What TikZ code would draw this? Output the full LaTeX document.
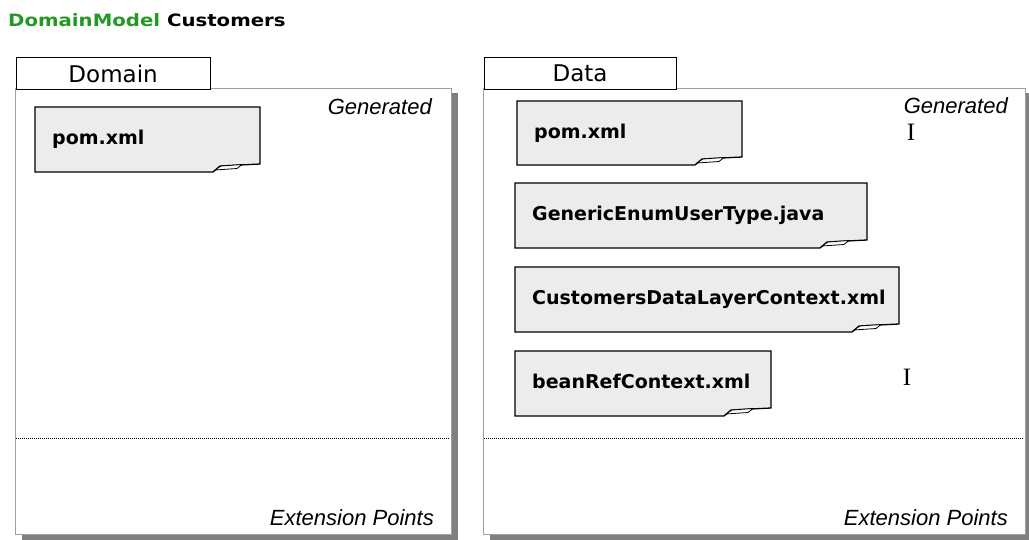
\documentclass[tikz,border=0pt]{standalone}
\usepackage{graphicx}
\usepackage{fontspec}
\newfontfamily\dvs{DejaVu Sans}
\newfontfamily\lsans{Liberation Sans}
\newfontfamily\lserif{Liberation Serif}
\definecolor{titlegreen}{RGB}{34,153,34}
\definecolor{notefill}{RGB}{236,236,236}
\definecolor{flapfill}{RGB}{250,250,250}
\definecolor{boxline}{RGB}{160,160,160}
\definecolor{shadowgray}{RGB}{128,128,128}
\tikzset{
  outerbox/.style={draw=boxline, fill=white, line width=1pt, inner sep=0pt, anchor=north west},
  tabbox/.style={draw=black, fill=white, line width=1.2pt, inner sep=0pt, anchor=north west,
     font=\dvs\fontsize{23}{23}\selectfont, text depth=0pt},
  notetext/.style={anchor=base west, inner sep=0pt, font=\dvs\bfseries\fontsize{19}{19}\selectfont},
  notebody/.style={fill=notefill, draw=black, line width=1.3pt, line join=miter},
  flap/.style={fill=flapfill, draw=black, line width=0.8pt},
  italabel/.style={anchor=base east, inner sep=0pt, font=\lsans\itshape\fontsize{22}{22}\selectfont},
  cursor/.style={anchor=base, inner sep=0pt, font=\lserif\fontsize{25}{25}\selectfont},
  sepline/.style={draw=black, line width=1pt, dash pattern=on 1pt off 1pt},
  shadowfill/.style={fill=shadowgray}
}
\newcommand\notebox[6]{%
  \path[notebody] (#2,#3) -- (#4,#3) -- (#4,#5-8) -- (#4-40,#5-6) -- (#4-47,#5) -- (#2,#5) -- cycle;
  \path[flap] (#4-45,#5-2) -- (#4-39,#5-6) -- (#4-18,#5-7.5) -- (#4-23,#5-3.5) -- cycle;
  \node[notetext] (#1) at (#2+17,#3+37) {#6};
}
\begin{document}
\begin{tikzpicture}[x=1pt,y=-1pt]
\useasboundingbox (0,0) rectangle (1029,539);
\fill[white] (0,0) rectangle (1029,539);

% title
\node[anchor=base west, inner sep=0pt] (title) at (8,26)
  {\scalebox{1.16}[1]{\dvs\bfseries\fontsize{17}{17}\selectfont{\color{titlegreen}DomainModel} Customers}};

% Domain package
\fill[shadowfill] (22,93) rectangle (458,540);
\node[outerbox, minimum width=436pt, minimum height=446pt] (domainbox) at (15,88) {};
\node[tabbox, minimum width=194pt, minimum height=32pt] (domaintab) at (15.5,57) {Domain};
\draw[sepline] (16,438) -- (450,438);
\node[italabel] (domgen) at (432,114) {Generated};
\node[italabel] (domext) at (434,525) {Extension Points};
\notebox{dompom}{35}{107}{260}{172}{pom.xml}

% Data package
\fill[shadowfill] (490,93) rectangle (1032,540);
\node[outerbox, minimum width=542pt, minimum height=446pt] (databox) at (483,88) {};
\node[tabbox, minimum width=192pt, minimum height=32pt] (datatab) at (483.5,57) {Data};
\draw[sepline] (484,438) -- (1024,438);
\node[italabel] (datagen) at (1008,113) {Generated};
\node[italabel] (dataext) at (1008,525) {Extension Points};
\notebox{datapom}{517}{101}{742}{165}{pom.xml}
\notebox{genenum}{515}{183}{867}{248}{GenericEnumUserType.java}
\notebox{custctx}{515}{267}{899}{332}{CustomersDataLayerContext.xml}
\notebox{beanref}{515}{351}{771}{416}{beanRefContext.xml}

% text cursors
\node[cursor] (cursorA) at (911,140) {I};
\node[cursor] (cursorB) at (907,385) {I};
\end{tikzpicture}
\end{document}
